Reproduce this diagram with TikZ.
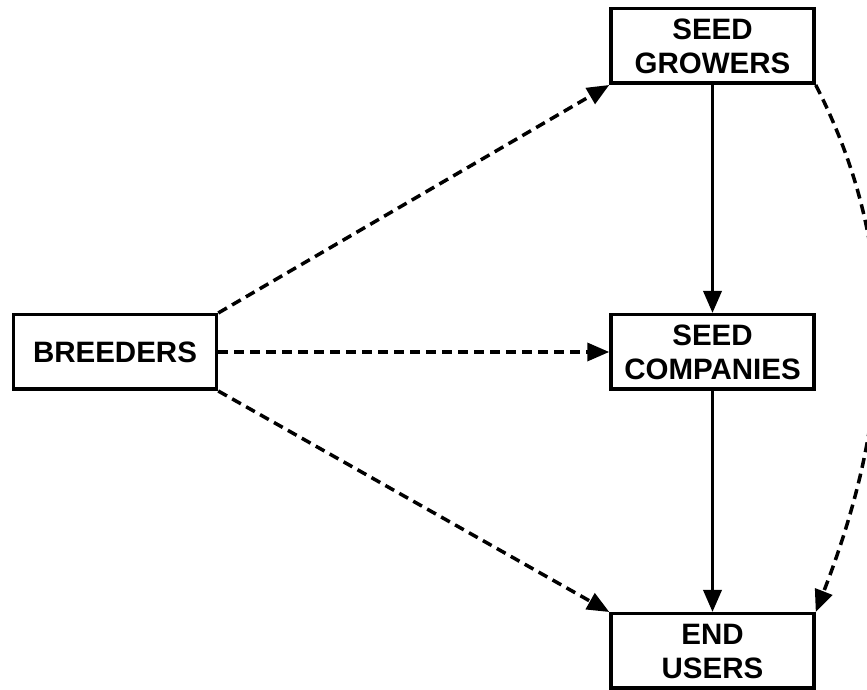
\documentclass[tikz,border=0pt]{standalone}
\usepackage{fontspec}
\setmainfont{Liberation Sans}
\usetikzlibrary{positioning}
\usetikzlibrary{arrows.meta}

\begin{document}
\begin{tikzpicture}[x=1pt, y=1pt,
    boxnode/.style={rectangle, draw=black, line width=3.5pt, fill=white, minimum width=203pt, minimum height=74.5pt, inner sep=0pt, align=center, font=\fontsize{29.5}{34}\selectfont\bfseries},
    flow/.style={line width=3.5pt, -{Triangle[length=22pt,width=18pt]}},
    dashflow/.style={flow, dash pattern=on 10pt off 6pt}]
            \useasboundingbox (0,0) rectangle (867,690);
            %Nodes
            \node[boxnode]   (breeders)  at (115,338)              {BREEDERS};
            \node[boxnode]   (companies) [right=391pt of breeders] {SEED\\COMPANIES};
            \node[boxnode]   (growers)   [above=228pt of companies] {SEED\\GROWERS};
            \node[boxnode]   (users)     [below=221pt of companies] {END\\USERS};
            %Arrows
            \draw[flow] (growers.south) -- (companies.north);
            \draw[flow] (companies.south) -- (users.north);
            \draw[dashflow] (breeders.north east) -- (growers.south west);
            \draw[dashflow] (breeders.east) -- (companies.west);
            \draw[dashflow] (breeders.south east) -- (users.north west);
            \draw[dashflow] (growers.south east) .. controls +(81,-159) and +(81,208) .. (users.north east);
        \end{tikzpicture}
\end{document}
